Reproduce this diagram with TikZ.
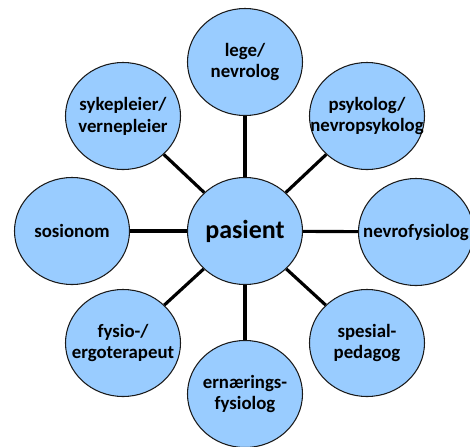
\documentclass[tikz,border=0pt]{standalone}
\usepackage{fontspec}
\setmainfont{Carlito}
\usetikzlibrary{shapes.geometric}
\definecolor{petalBlue}{HTML}{99CCFF}
\definecolor{rimDark}{HTML}{1A1A1A}
\tikzset{
  petal/.style={ellipse, draw=rimDark, fill=petalBlue, line width=0.6pt,
                minimum width=2.3cm, minimum height=2.14cm, inner sep=0pt},
  petaltext/.style={align=center, inner sep=0pt,
                    font=\bfseries\fontsize{10.7}{12.5}\selectfont},
  hubtext/.style={font=\bfseries\fontsize{14.8}{17}\selectfont},
  spoke/.style={line width=1.8pt, black},
}
\begin{document}
\begin{tikzpicture}
    \useasboundingbox (0,0) rectangle (9.4,-8.94);
    \clip (0,0) rectangle (9.4,-8.94);
    \node[petal, hubtext] (pasient) at (4.9,-4.62) {pasient};
    \node[petal, label={[petaltext]center:{lege/\\nevrolog}}] (lege) at (4.9,-1.24) {};
    \node[petal, label={[petaltext]center:{psykolog/\\nevropsykolog}}] (psyk) at (7.34,-2.32) {};
    \node[petal, label={[petaltext]center:{nevrofysiolog}}] (nfys) at (8.32,-4.64) {};
    \node[petal, label={[petaltext]center:{spesial-\\pedagog}}] (ped) at (7.34,-6.86) {};
    \node[petal, label={[petaltext]center:{ernærings-\\fysiolog}}] (ern) at (4.9,-7.88) {};
    \node[petal, label={[petaltext]center:{fysio-/\\ergoterapeut}}] (fysio) at (2.46,-6.86) {};
    \node[petal, label={[petaltext]center:{sosionom}}] (sos) at (1.44,-4.62) {};
    \node[petal, label={[petaltext]center:{sykepleier/\\vernepleier}}] (syk) at (2.46,-2.32) {};
    \foreach \n in {lege,psyk,nfys,ped,ern,fysio,sos,syk}
      \draw[spoke] (pasient) -- (\n);
\end{tikzpicture}
\end{document}
